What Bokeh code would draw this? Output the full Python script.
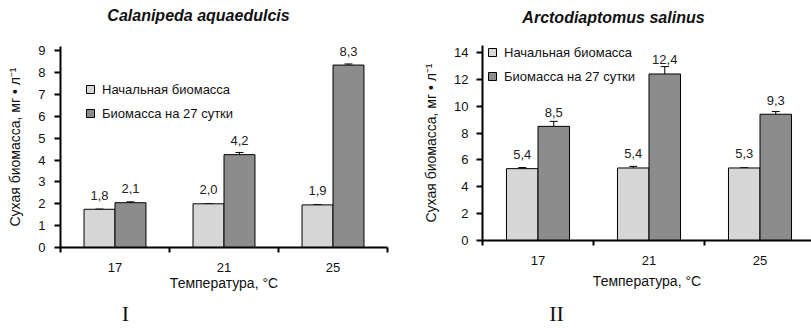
from bokeh.plotting import figure
from bokeh.models import (Range1d, FixedTicker, ColumnDataSource, Whisker, TeeHead,
                          LabelSet, Legend, LegendItem, LinearAxis)
from bokeh.core.properties import value
from bokeh.layouts import row
from bokeh.embed import file_html
from bokeh.resources import INLINE

# ---------------- data ----------------
temps = ["17", "21", "25"]
legend_labels = ["Начальная биомасса", "Биомасса на 27 сутки"]

cal_initial = [1.75, 2.0, 1.95]
cal_initial_txt = ["1,8", "2,0", "1,9"]
cal_initial_err = [0.0, 0.0, 0.0]
cal_final = [2.05, 4.25, 8.35]
cal_final_txt = ["2,1", "4,2", "8,3"]
cal_final_err = [0.04, 0.1, 0.05]

arc_initial = [5.35, 5.4, 5.4]
arc_initial_txt = ["5,4", "5,4", "5,3"]
arc_initial_err = [0.08, 0.12, 0.0]
arc_final = [8.5, 12.4, 9.4]
arc_final_txt = ["8,5", "12,4", "9,3"]
arc_final_err = [0.37, 0.55, 0.2]

FONT = "Liberation Sans"
LIGHT = "#d6d6d6"
DARK = "#8c8c8c"
OFF = 0.142
BW = 0.284


def text_axis(pos, text, standoff, font, size, style):
    """An axis with no line or ticks that carries a single text label."""
    ax = LinearAxis(ticker=FixedTicker(ticks=[pos], minor_ticks=[]),
                    major_label_overrides={pos: text},
                    axis_line_color=None, major_tick_line_color=None,
                    minor_tick_line_color=None, major_tick_out=0, major_tick_in=0,
                    minor_tick_out=0, minor_tick_in=0,
                    major_label_standoff=standoff,
                    major_label_text_font=font, major_label_text_font_size=size,
                    major_label_text_font_style=style,
                    major_label_text_color="#111111")
    return ax


def make_chart(width, height, borders, xmax, ytop, ymax, ystep, init, init_txt, init_err,
               fin, fin_txt, fin_err, title, title_x, title_standoff,
               roman, roman_x, roman_standoff, xtick_standoff, xlab_standoff,
               ytick_standoff, ylab_standoff, leg_loc, leg_spacing):
    bl, br, bt, bb = borders
    p = figure(width=width, height=height, output_backend="svg", toolbar_location=None,
               x_range=Range1d(0, xmax), y_range=Range1d(0, ytop),
               min_border_left=bl, min_border_right=br, min_border_top=bt,
               min_border_bottom=bb, frame_align=False)
    p.outline_line_color = None
    p.grid.visible = False
    p.background_fill_color = "white"
    p.border_fill_color = "white"

    centers = [i + 0.5 for i in range(len(temps))]
    xi = [c - OFF for c in centers]
    xf = [c + OFF for c in centers]
    src_i = ColumnDataSource(dict(x=xi, top=init, txt=init_txt,
                                  lo=[v - e for v, e in zip(init, init_err)],
                                  hi=[v + e for v, e in zip(init, init_err)]))
    src_f = ColumnDataSource(dict(x=xf, top=fin, txt=fin_txt,
                                  lo=[v - e for v, e in zip(fin, fin_err)],
                                  hi=[v + e for v, e in zip(fin, fin_err)]))
    r1 = p.vbar(x="x", top="top", width=BW, bottom=0, source=src_i,
                fill_color=LIGHT, line_color="black", line_width=1)
    r2 = p.vbar(x="x", top="top", width=BW, bottom=0, source=src_f,
                fill_color=DARK, line_color="black", line_width=1)

    for s in (src_i, src_f):
        w = Whisker(base="x", upper="hi", lower="lo", source=s, line_color="black",
                    line_width=1,
                    upper_head=TeeHead(size=8, line_color="black", line_width=1),
                    lower_head=TeeHead(size=8, line_color="black", line_width=1))
        p.add_layout(w)
        ls = LabelSet(x="x", y="top", text="txt", source=s, y_offset=14,
                      text_align="center", text_baseline="middle",
                      text_font=value(FONT), text_font_size=value("13px"),
                      text_color="#222222")
        p.add_layout(ls)

    # axes
    p.xaxis.ticker = FixedTicker(ticks=centers, minor_ticks=list(range(len(temps) + 1)))
    p.xaxis.major_label_overrides = {c: t for c, t in zip(centers, temps)}
    p.xaxis.major_tick_out = 0
    p.xaxis.major_tick_in = 0
    p.xaxis.minor_tick_out = 5
    p.xaxis.minor_tick_in = 0
    p.xaxis.minor_tick_line_width = 2
    p.xaxis.axis_line_width = 2
    p.xaxis.major_label_standoff = xtick_standoff
    p.xaxis.axis_label = "Температура, °C"
    p.xaxis.axis_label_standoff = xlab_standoff
    p.yaxis.ticker = FixedTicker(ticks=list(range(0, ymax + 1, ystep)))
    p.yaxis.major_tick_out = 6
    p.yaxis.major_tick_in = 0
    p.yaxis.minor_tick_out = 0
    p.yaxis.minor_tick_in = 0
    p.yaxis.major_tick_line_width = 2
    p.yaxis.axis_line_width = 2
    p.yaxis.major_label_standoff = ytick_standoff
    p.yaxis.axis_label = "Сухая биомасса, мг • л⁻¹"
    p.yaxis.axis_label_standoff = ylab_standoff
    for ax in (p.xaxis, p.yaxis):
        ax.major_label_text_font = FONT
        ax.major_label_text_font_size = "13px"
        ax.major_label_text_color = "#111111"
        ax.axis_label_text_font = FONT
        ax.axis_label_text_font_size = "14px"
        ax.axis_label_text_font_style = "normal"
        ax.axis_label_text_color = "#111111"
        ax.axis_line_color = "black"
        ax.major_tick_line_color = "black"
        ax.minor_tick_line_color = "black"

    # chart title (above) and panel numeral (below)
    p.add_layout(text_axis(title_x, title, title_standoff, FONT, "16px", "bold italic"),
                 "above")
    p.add_layout(text_axis(roman_x, roman, roman_standoff, "Liberation Serif", "22px",
                           "normal"), "below")

    legend = Legend(items=[LegendItem(label=legend_labels[0], renderers=[r1]),
                           LegendItem(label=legend_labels[1], renderers=[r2])],
                    location=leg_loc, orientation="vertical",
                    glyph_width=10, glyph_height=10, label_standoff=7,
                    label_height=20, spacing=leg_spacing, padding=0, margin=0,
                    label_text_font=FONT, label_text_font_size="13px",
                    label_text_color="#111111",
                    border_line_alpha=0, background_fill_alpha=0)
    p.add_layout(legend)
    return p


p1 = make_chart(405, 328, (60, 18, 46, 81), 3, 9.2, 9, 1,
                cal_initial, cal_initial_txt, cal_initial_err,
                cal_final, cal_final_txt, cal_final_err,
                title="Calanipeda aquaedulcis", title_x=1.266, title_standoff=23,
                roman="I", roman_x=0.596, roman_standoff=7,
                xtick_standoff=10, xlab_standoff=0, ytick_standoff=9, ylab_standoff=12,
                leg_loc=(25, 124), leg_spacing=4)

p2 = make_chart(406, 328, (77, 0, 45, 87), 329 / 111, 14.52, 14, 2,
                arc_initial, arc_initial_txt, arc_initial_err,
                arc_final, arc_final_txt, arc_final_err,
                title="Arctodiaptomus salinus", title_x=1.18, title_standoff=20,
                roman="II", roman_x=0.667, roman_standoff=9,
                xtick_standoff=10, xlab_standoff=5, ytick_standoff=8, ylab_standoff=12,
                leg_loc=(5, 154), leg_spacing=4)

layout = row(p1, p2)
open("out.html", "w").write(file_html(layout, INLINE))
